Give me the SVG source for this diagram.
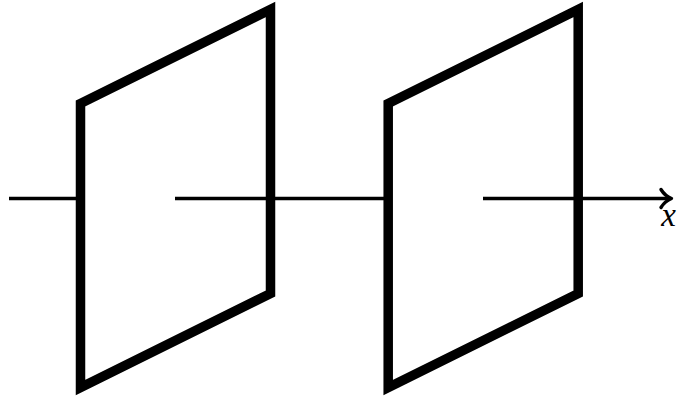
<svg xmlns="http://www.w3.org/2000/svg" width="678" height="401" viewBox="0 0 678 401">
<style>
.plane{fill:none;stroke:#000;stroke-width:9.5;stroke-linejoin:miter;stroke-miterlimit:10}
.axis{fill:none;stroke:#000;stroke-width:3.6}
.head{fill:none;stroke:#000;stroke-width:3.4;stroke-linecap:round;stroke-linejoin:round}
.lbl{font-family:"Liberation Serif","DejaVu Serif",serif;font-style:italic;font-size:33px;fill:#000}
</style>
<rect width="678" height="401" fill="#fff"/>
<g id="connectors">
<line class="axis" x1="9" y1="198.5" x2="80" y2="198.5"/>
<line class="axis" x1="175" y1="198.5" x2="388" y2="198.5"/>
<line class="axis" x1="483" y1="198.5" x2="670" y2="198.5"/>
<path class="head" d="M661,189.5 Q665,196 671.5,198.5 Q665,201 661,207.5"/>
</g>
<g id="plane1">
<path class="plane" d="M80.5,103.5 L270.5,9.5 L270.5,293.5 L80.5,387.5 Z"/>
</g>
<g id="plane2">
<path class="plane" d="M388.2,103.5 L578.2,9.5 L578.2,293.5 L388.2,387.5 Z"/>
</g>
<g id="label-x">
<text class="lbl" x="668.5" y="225.5" text-anchor="middle">x</text>
</g>
</svg>
